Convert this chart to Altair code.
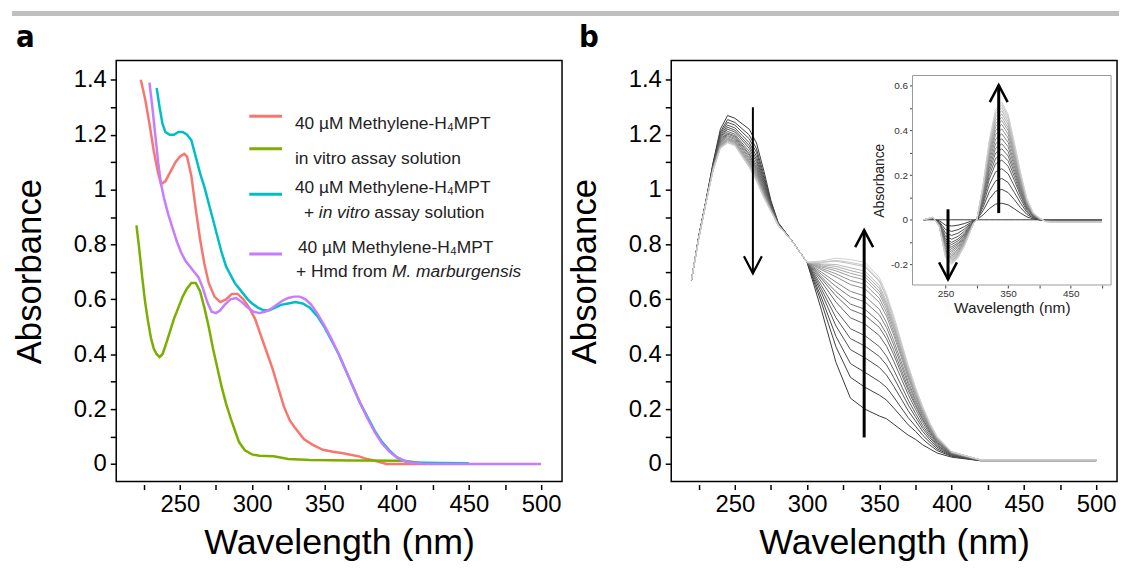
import altair as alt
import pandas as pd

FONT = "Liberation Sans"
LETTER_FONT = "Liberation Sans Narrow, DejaVu Sans Condensed, Liberation Sans"
W, H = 449, 424

# ---------------- panel a data ----------------
red_wl = [223, 226, 229, 232, 235, 237, 240, 243, 247, 250, 253, 255, 258, 261, 264, 267, 270, 274, 278, 282,
          286, 290, 294, 298, 302, 306, 310, 314, 318, 322, 326, 330, 336, 342, 349, 356, 362, 368, 374, 379,
          385, 393, 405, 420]
red_abs = [1.40, 1.33, 1.24, 1.14, 1.06, 1.02, 1.03, 1.06, 1.10, 1.12, 1.13, 1.12, 1.05, 0.93, 0.82, 0.73, 0.66, 0.61, 0.59, 0.60,
           0.62, 0.62, 0.60, 0.57, 0.53, 0.47, 0.41, 0.35, 0.28, 0.21, 0.16, 0.13, 0.09, 0.07, 0.052, 0.045, 0.040, 0.034, 0.028, 0.019,
           0.012, 0.0, 0.0, 0.0]

green_wl = [220, 222, 224, 226, 228, 230, 232, 234, 236, 238, 240, 243, 246, 249, 252, 255, 258, 261, 264, 267,
            270, 273, 276, 279, 282, 285, 288, 291, 295, 300, 305, 315, 325, 340, 370, 405, 415, 425]
green_abs = [0.87, 0.78, 0.68, 0.59, 0.52, 0.46, 0.42, 0.40, 0.39, 0.40, 0.43, 0.48, 0.53, 0.57, 0.61, 0.64, 0.66, 0.66, 0.63, 0.57,
             0.50, 0.42, 0.35, 0.28, 0.22, 0.17, 0.124, 0.08, 0.05, 0.035, 0.03, 0.028, 0.018, 0.015, 0.013, 0.012, 0.005, 0.0]

cyan_wl = [234, 236, 238, 240, 243, 246, 249, 252, 255, 258, 261, 264, 267, 270, 273, 276, 279, 282, 285, 288,
           291, 294, 297, 300, 304, 308, 312, 316, 320, 325, 330, 335, 340, 345, 350, 355, 360, 365, 370, 375,
           380, 385, 390, 395, 400, 405, 410, 430, 450]
cyan_abs = [1.37, 1.30, 1.24, 1.21, 1.20, 1.20, 1.21, 1.21, 1.20, 1.18, 1.12, 1.06, 1.01, 0.95, 0.89, 0.83, 0.77, 0.72, 0.69, 0.66,
            0.64, 0.62, 0.60, 0.585, 0.57, 0.56, 0.56, 0.57, 0.58, 0.585, 0.59, 0.585, 0.57, 0.54, 0.50, 0.45, 0.40, 0.34, 0.28, 0.22,
            0.17, 0.12, 0.08, 0.05, 0.025, 0.012, 0.006, 0.004, 0.003]

purple_wl = [229, 231, 233, 235, 237, 239, 242, 245, 248, 251, 254, 257, 260, 263, 266, 269, 272, 275, 278, 281,
             285, 289, 293, 297, 301, 305, 309, 313, 317, 321, 325, 329, 333, 337, 341, 345, 350, 355, 360, 365,
             370, 375, 380, 385, 390, 395, 400, 405, 410, 420, 500]
purple_abs = [1.39, 1.30, 1.20, 1.10, 1.02, 0.97, 0.91, 0.86, 0.81, 0.77, 0.74, 0.72, 0.70, 0.68, 0.64, 0.59, 0.555, 0.55, 0.56, 0.58,
              0.60, 0.605, 0.59, 0.57, 0.555, 0.55, 0.555, 0.565, 0.58, 0.595, 0.605, 0.61, 0.61, 0.60, 0.58, 0.55, 0.505, 0.455, 0.40, 0.34,
              0.28, 0.22, 0.165, 0.115, 0.075, 0.045, 0.025, 0.012, 0.005, 0.0, 0.0]

series_colors = ["#F8766D", "#7CAE00", "#00BFC4", "#C77CFF"]

# ---------------- panel b data (rows = wavelengths, columns = successive spectra) ----------------
b_wl = [220, 225, 230, 235, 240, 245, 250, 255, 260, 265, 270, 275, 280, 290, 300, 310, 320, 330, 340, 350,
        355, 360, 365, 370, 375, 380, 385, 390, 400, 420, 500]
b_rows = [
    [0.670, 0.670, 0.670, 0.670, 0.670, 0.670, 0.670, 0.670, 0.670, 0.670, 0.670, 0.670, 0.670, 0.670, 0.670, 0.670, 0.670, 0.670, 0.670, 0.670],
    [0.830, 0.828, 0.828, 0.826, 0.826, 0.825, 0.824, 0.824, 0.823, 0.823, 0.822, 0.822, 0.822, 0.821, 0.821, 0.821, 0.821, 0.820, 0.820, 0.820],
    [0.960, 0.958, 0.958, 0.956, 0.956, 0.955, 0.954, 0.954, 0.953, 0.953, 0.952, 0.952, 0.952, 0.951, 0.951, 0.951, 0.951, 0.950, 0.950, 0.950],
    [1.100, 1.096, 1.093, 1.090, 1.087, 1.085, 1.083, 1.081, 1.080, 1.078, 1.077, 1.075, 1.075, 1.074, 1.073, 1.072, 1.072, 1.071, 1.071, 1.070],
    [1.220, 1.210, 1.203, 1.196, 1.190, 1.185, 1.179, 1.175, 1.172, 1.169, 1.166, 1.163, 1.161, 1.158, 1.157, 1.156, 1.154, 1.152, 1.151, 1.150],
    [1.270, 1.255, 1.245, 1.235, 1.227, 1.220, 1.212, 1.206, 1.202, 1.197, 1.193, 1.188, 1.185, 1.182, 1.180, 1.178, 1.176, 1.173, 1.172, 1.170],
    [1.260, 1.245, 1.235, 1.225, 1.217, 1.210, 1.202, 1.196, 1.192, 1.187, 1.183, 1.178, 1.175, 1.172, 1.170, 1.168, 1.166, 1.163, 1.162, 1.160],
    [1.240, 1.222, 1.210, 1.198, 1.188, 1.180, 1.170, 1.163, 1.158, 1.152, 1.148, 1.142, 1.138, 1.134, 1.132, 1.130, 1.127, 1.124, 1.122, 1.120],
    [1.220, 1.199, 1.185, 1.171, 1.160, 1.150, 1.139, 1.130, 1.125, 1.118, 1.112, 1.105, 1.101, 1.097, 1.094, 1.091, 1.088, 1.084, 1.083, 1.080],
    [1.170, 1.149, 1.135, 1.121, 1.110, 1.100, 1.089, 1.080, 1.075, 1.068, 1.062, 1.055, 1.051, 1.047, 1.044, 1.041, 1.038, 1.034, 1.033, 1.030],
    [1.070, 1.055, 1.045, 1.035, 1.027, 1.020, 1.012, 1.006, 1.002, 0.997, 0.993, 0.988, 0.985, 0.982, 0.980, 0.978, 0.976, 0.973, 0.972, 0.970],
    [0.960, 0.954, 0.950, 0.946, 0.943, 0.940, 0.937, 0.934, 0.933, 0.931, 0.929, 0.927, 0.926, 0.925, 0.924, 0.923, 0.922, 0.921, 0.921, 0.920],
    [0.880, 0.878, 0.878, 0.876, 0.876, 0.875, 0.874, 0.874, 0.873, 0.873, 0.872, 0.872, 0.872, 0.871, 0.871, 0.871, 0.871, 0.870, 0.870, 0.870],
    [0.810, 0.810, 0.810, 0.810, 0.810, 0.810, 0.810, 0.810, 0.810, 0.810, 0.810, 0.810, 0.810, 0.810, 0.810, 0.810, 0.810, 0.810, 0.810, 0.810],
    [0.735, 0.735, 0.735, 0.735, 0.735, 0.735, 0.735, 0.735, 0.735, 0.735, 0.735, 0.735, 0.735, 0.735, 0.735, 0.735, 0.735, 0.735, 0.735, 0.735],
    [0.560, 0.587, 0.605, 0.623, 0.637, 0.650, 0.664, 0.675, 0.682, 0.691, 0.699, 0.708, 0.713, 0.718, 0.722, 0.726, 0.729, 0.735, 0.736, 0.740],
    [0.370, 0.427, 0.465, 0.503, 0.533, 0.560, 0.590, 0.613, 0.628, 0.647, 0.663, 0.682, 0.693, 0.704, 0.712, 0.720, 0.727, 0.739, 0.742, 0.750],
    [0.240, 0.316, 0.366, 0.417, 0.457, 0.493, 0.533, 0.563, 0.583, 0.609, 0.629, 0.654, 0.669, 0.684, 0.695, 0.705, 0.715, 0.730, 0.735, 0.745],
    [0.200, 0.280, 0.334, 0.387, 0.430, 0.468, 0.510, 0.542, 0.564, 0.591, 0.612, 0.639, 0.655, 0.671, 0.682, 0.692, 0.703, 0.719, 0.724, 0.735],
    [0.175, 0.251, 0.301, 0.352, 0.392, 0.428, 0.468, 0.498, 0.518, 0.544, 0.564, 0.589, 0.604, 0.619, 0.630, 0.640, 0.650, 0.665, 0.670, 0.680],
    [0.165, 0.233, 0.279, 0.324, 0.361, 0.393, 0.429, 0.456, 0.474, 0.497, 0.515, 0.538, 0.552, 0.565, 0.575, 0.584, 0.593, 0.606, 0.611, 0.620],
    [0.145, 0.204, 0.244, 0.283, 0.315, 0.343, 0.374, 0.398, 0.414, 0.433, 0.449, 0.469, 0.481, 0.493, 0.501, 0.508, 0.516, 0.528, 0.532, 0.540],
    [0.125, 0.174, 0.206, 0.239, 0.265, 0.288, 0.314, 0.333, 0.346, 0.362, 0.375, 0.392, 0.401, 0.411, 0.418, 0.424, 0.431, 0.440, 0.444, 0.450],
    [0.105, 0.143, 0.169, 0.194, 0.215, 0.233, 0.253, 0.268, 0.278, 0.291, 0.301, 0.314, 0.322, 0.329, 0.335, 0.340, 0.345, 0.352, 0.355, 0.360],
    [0.090, 0.119, 0.138, 0.157, 0.172, 0.185, 0.200, 0.212, 0.219, 0.229, 0.236, 0.246, 0.252, 0.257, 0.261, 0.265, 0.269, 0.274, 0.276, 0.280],
    [0.070, 0.091, 0.105, 0.119, 0.130, 0.140, 0.151, 0.160, 0.165, 0.172, 0.178, 0.185, 0.189, 0.193, 0.196, 0.199, 0.202, 0.206, 0.207, 0.210],
    [0.055, 0.069, 0.079, 0.088, 0.096, 0.103, 0.110, 0.116, 0.120, 0.124, 0.128, 0.133, 0.136, 0.139, 0.141, 0.142, 0.144, 0.147, 0.148, 0.150],
    [0.040, 0.049, 0.055, 0.061, 0.066, 0.070, 0.075, 0.078, 0.081, 0.084, 0.086, 0.089, 0.091, 0.093, 0.094, 0.095, 0.096, 0.098, 0.099, 0.100],
    [0.025, 0.028, 0.030, 0.032, 0.034, 0.035, 0.037, 0.038, 0.039, 0.040, 0.040, 0.041, 0.042, 0.043, 0.043, 0.043, 0.044, 0.044, 0.045, 0.045],
    [0.012, 0.012, 0.013, 0.013, 0.013, 0.013, 0.014, 0.014, 0.014, 0.014, 0.014, 0.014, 0.015, 0.015, 0.015, 0.015, 0.015, 0.015, 0.015, 0.015],
    [0.012, 0.012, 0.013, 0.013, 0.013, 0.013, 0.014, 0.014, 0.014, 0.014, 0.014, 0.014, 0.015, 0.015, 0.015, 0.015, 0.015, 0.015, 0.015, 0.015],
]

# ---------------- inset data (difference spectra) ----------------
ins_wl = [215, 230, 240, 245, 250, 260, 270, 280, 290, 295, 300, 310, 320, 330, 340, 350, 360, 370, 380, 390,
          400, 410, 420, 500]
ins_rows = [
    [0, 0, 0, 0, 0, 0, 0, 0, 0, 0, 0, 0, 0, 0, 0, 0, 0, 0, 0, 0],
    [0, .002, .003, .004, .005, .006, .007, .007, .008, .008, .009, .009, .010, .010, .010, .011, .011, .011, .012, .012],
    [0, -.004, -.008, -.011, -.013, -.015, -.017, -.018, -.019, -.021, -.022, -.023, -.024, -.025, -.026, -.027, -.028, -.029, -.029, -.030],
    [0, -.014, -.026, -.035, -.044, -.051, -.056, -.061, -.065, -.069, -.073, -.078, -.081, -.085, -.087, -.090, -.093, -.096, -.098, -.100],
    [0, -.024, -.044, -.060, -.074, -.086, -.094, -.103, -.110, -.117, -.124, -.132, -.138, -.144, -.148, -.153, -.158, -.162, -.167, -.170],
    [0, -.028, -.052, -.070, -.087, -.101, -.111, -.121, -.129, -.138, -.146, -.155, -.162, -.169, -.174, -.180, -.186, -.191, -.196, -.200],
    [0, -.024, -.044, -.060, -.074, -.086, -.094, -.103, -.110, -.117, -.124, -.132, -.138, -.144, -.148, -.153, -.158, -.162, -.167, -.170],
    [0, -.017, -.031, -.042, -.052, -.061, -.067, -.073, -.077, -.083, -.088, -.093, -.097, -.101, -.104, -.108, -.112, -.115, -.118, -.120],
    [0, -.007, -.013, -.018, -.022, -.025, -.028, -.030, -.032, -.035, -.037, -.039, -.041, -.042, -.044, -.045, -.047, -.048, -.049, -.050],
    [0, -.002, -.004, -.006, -.007, -.008, -.009, -.010, -.010, -.011, -.012, -.012, -.013, -.014, -.014, -.014, -.015, -.015, -.016, -.016],
    [0, 0, 0, 0, 0, 0, 0, 0, 0, 0, 0, 0, 0, 0, 0, 0, 0, 0, 0, 0],
    [0, .022, .041, .056, .069, .080, .088, .095, .102, .109, .116, .122, .128, .133, .138, .142, .147, .151, .155, .158],
    [0, .050, .092, .126, .156, .182, .199, .216, .231, .247, .262, .277, .290, .302, .312, .322, .333, .342, .350, .358],
    [0, .070, .128, .174, .215, .251, .275, .299, .320, .341, .362, .383, .401, .417, .431, .446, .460, .473, .484, .494],
    [0, .074, .136, .185, .229, .267, .293, .318, .340, .363, .385, .407, .427, .444, .459, .474, .489, .503, .515, .526],
    [0, .067, .122, .167, .206, .240, .264, .286, .306, .327, .347, .366, .384, .400, .413, .427, .440, .453, .464, .473],
    [0, .049, .090, .122, .151, .176, .193, .210, .224, .240, .254, .269, .282, .293, .303, .313, .323, .332, .340, .347],
    [0, .030, .054, .074, .092, .107, .117, .127, .136, .145, .154, .163, .171, .178, .184, .190, .196, .201, .206, .210],
    [0, .013, .024, .033, .041, .048, .053, .057, .061, .065, .069, .073, .077, .080, .083, .085, .088, .091, .093, .095],
    [0, .004, .008, .011, .014, .016, .018, .019, .020, .022, .023, .024, .026, .027, .028, .028, .029, .030, .031, .032],
    [0, 0, 0, 0, .001, .002, .002, .003, .003, .004, .004, .005, .005, .006, .006, .007, .007, .008, .008, .008],
    [0, -.001, -.002, -.003, -.003, -.004, -.004, -.005, -.005, -.005, -.006, -.006, -.006, -.007, -.007, -.007, -.008, -.008, -.008, -.008],
    [0, -.002, -.003, -.004, -.005, -.005, -.006, -.006, -.007, -.007, -.007, -.008, -.008, -.008, -.009, -.009, -.009, -.009, -.010, -.010],
    [0, -.002, -.003, -.004, -.005, -.005, -.006, -.006, -.007, -.007, -.007, -.008, -.008, -.008, -.009, -.009, -.009, -.009, -.010, -.010],
]

# arrows: wavelength, tail value, tip value
b_arrows_wl = [262.5, 339.5]
b_arrows_tail = [1.30, 0.097]
b_arrows_tip = [0.695, 0.852]
ins_arrows_wl = [254, 335]
ins_arrows_tail = [0.047, 0.03]
ins_arrows_tip = [-0.267, 0.603]

# axes ticks
X_TICKS = [225, 250, 275, 300, 325, 350, 375, 400, 425, 450, 475, 500]
Y_TICKS = [0, 0.1, 0.2, 0.3, 0.4, 0.5, 0.6, 0.7, 0.8, 0.9, 1.0, 1.1, 1.2, 1.3, 1.4]
INS_X_TICKS = [250, 300, 350, 400, 450, 500]
INS_Y_TICKS = [-0.2, -0.1, 0, 0.1, 0.2, 0.3, 0.4, 0.5, 0.6]
X_DOM = [206, 514.5]
Y_DOM = [-0.064, 1.47]
INS_X_DOM = [197.3, 514.5]
INS_Y_DOM = [-0.292, 0.646]


def long_df(wls, rows):
    recs = []
    for w, row in zip(wls, rows):
        for k, v in enumerate(row):
            recs.append({"wl": w, "abs": v, "k": k, "key": f"c{k:02d}"})
    return pd.DataFrame(recs).sort_values(["key", "wl"])


x_scale = alt.Scale(domain=X_DOM, nice=False, zero=False)
y_scale = alt.Scale(domain=Y_DOM, nice=False, zero=False)

x_axis = alt.Axis(values=X_TICKS, labelExpr="datum.value % 50 == 0 ? datum.label : ''", orient="bottom",
                  offset=3, domain=False, grid=False, tickSize=5, tickWidth=1.5, tickColor="black",
                  labelFont=FONT, labelFontSize=24, labelColor="black", labelPadding=3, labelFlush=False,
                  labelOverlap=False, title="Wavelength (nm)", titleFont=FONT, titleFontSize=36,
                  titleFontWeight="normal", titleColor="black", titleY=69, titleBaseline="alphabetic")
y_axis = alt.Axis(values=Y_TICKS, labelExpr="round(datum.value * 10) % 2 == 0 ? '' + datum.value : ''",
                  orient="left", domain=False, grid=False, tickSize=6, tickWidth=1.5, tickColor="black",
                  labelFont=FONT, labelFontSize=24, labelColor="black", labelPadding=4, labelFlush=False,
                  labelOverlap=False, title="Absorbance", titleFont=FONT, titleFontSize=35,
                  titleFontWeight="normal", titleColor="black", titleX=-87, titleBaseline="middle")

one = pd.DataFrame({"d": [0]})


def text_at(s, x, y, size=17.5, style="normal", weight="normal", color="#222222", font=FONT):
    return alt.Chart(one).mark_text(text=s, align="left", baseline="alphabetic", fontSize=size,
                                    fontStyle=style, fontWeight=weight, font=font, color=color).encode(
        x=alt.value(x), y=alt.value(y))


def hline(x1, x2, y, color, width):
    return alt.Chart(one).mark_rule(color=color, strokeWidth=width).encode(
        x=alt.value(x1), x2=alt.value(x2), y=alt.value(y))


# ---------------- panel a ----------------
layers_a = []
for wl, ab, col in zip([red_wl, green_wl, cyan_wl, purple_wl], [red_abs, green_abs, cyan_abs, purple_abs], series_colors):
    df = pd.DataFrame({"wl": wl, "abs": ab})
    layers_a.append(alt.Chart(df).mark_line(color=col, strokeWidth=2.5).encode(
        x=alt.X("wl:Q", scale=x_scale, axis=x_axis),
        y=alt.Y("abs:Q", scale=y_scale, axis=y_axis)))

legend_layers = [
    hline(134, 167, 56, series_colors[0], 3),
    hline(134, 167, 88.7, series_colors[1], 3),
    hline(134, 167, 134.7, series_colors[2], 3),
    hline(134, 167, 194.7, series_colors[3], 3),
    text_at("40 µM Methylene-H₄MPT", 180, 68.7),
    text_at("in vitro assay solution", 180, 103.7),
    text_at("40 µM Methylene-H₄MPT", 180, 133.7),
    text_at("+", 189, 158.7),
    text_at("in vitro", 204, 158.7, style="italic"),
    text_at("assay solution", 260, 158.7),
    text_at("40 µM Methylene-H₄MPT", 183, 193.7),
    text_at("+ Hmd from", 181, 218),
    text_at("M. marburgensis", 277.7, 218, style="italic"),
]

deco_a = [
    hline(-105, 1010, -47.5, "#bfbfbf", 5),
    text_at("a", -101, -13.5, size=31, weight="bold", color="black", font=LETTER_FONT),
]

panel_a = alt.layer(*layers_a, *legend_layers, *deco_a).properties(width=W, height=H)

# ---------------- panel b ----------------
df_b = long_df(b_wl, b_rows)
lines_b = alt.Chart(df_b).mark_line(strokeWidth=1).encode(
    x=alt.X("wl:Q", scale=x_scale, axis=x_axis),
    y=alt.Y("abs:Q", scale=y_scale, axis=y_axis),
    color=alt.Color("k:Q", scale=alt.Scale(domain=[0, 19], range=["#383838", "#d0d0d0"]), legend=None),
    detail="key:N")

arr_b = pd.DataFrame({"wl": b_arrows_wl, "abs": b_arrows_tail, "tip": b_arrows_tip, "sw": [2, 3]})
shaft_b = alt.Chart(arr_b).mark_rule(color="black").encode(
    x=alt.X("wl:Q", scale=x_scale, axis=x_axis),
    y=alt.Y("abs:Q", scale=y_scale, axis=y_axis),
    y2="tip:Q",
    strokeWidth=alt.StrokeWidth("sw:Q", scale=None))

DOWN = "M-1,-1.9L0,0L1,-1.9"
UP = "M-1,1.9L0,0L1,1.9"


def chevrons(df, shape, xs, ys, xa, ya, sw):
    return alt.Chart(df).mark_point(shape=shape, filled=False, size=324, strokeWidth=sw, color="black",
                                    opacity=1, strokeJoin="miter").encode(
        x=alt.X("wl:Q", scale=xs, axis=xa),
        y=alt.Y("tip:Q", scale=ys, axis=ya))


chev_b_down = chevrons(arr_b.iloc[[0]], DOWN, x_scale, y_scale, x_axis, y_axis, 2.2)
chev_b_up = chevrons(arr_b.iloc[[1]], UP, x_scale, y_scale, x_axis, y_axis, 2.5)

main_b = alt.layer(lines_b, shaft_b, chev_b_down, chev_b_up,
                   text_at("b", -93, -13.5, size=31, weight="bold", color="black", font=LETTER_FONT))

# inset
ins_x_scale = alt.Scale(domain=INS_X_DOM, range=[243, 443], nice=False, zero=False)
ins_y_scale = alt.Scale(domain=INS_Y_DOM, range=[226, 15], nice=False, zero=False)
ins_x_axis = alt.Axis(values=INS_X_TICKS, labelExpr="datum.value % 100 == 50 ? datum.label : ''", orient="bottom",
                      offset=-198, domain=False, grid=False, tickSize=3, tickWidth=1, tickColor="#444444",
                      labelFont=FONT, labelFontSize=10, labelColor="#333333", labelPadding=1, labelFlush=False,
                      labelOverlap=False, title="Wavelength (nm)", titleFont=FONT, titleFontSize=15.5,
                      titleFontWeight="normal", titleColor="#222222", titleY=27.5, titleBaseline="alphabetic")
ins_y_axis = alt.Axis(values=INS_Y_TICKS, labelExpr="round(datum.value * 10) % 2 == 0 ? '' + datum.value : ''",
                      orient="left", offset=-243, domain=False, grid=False, tickSize=3, tickWidth=1,
                      tickColor="#444444", labelFont=FONT, labelFontSize=10, labelColor="#333333", labelPadding=2,
                      labelFlush=False, labelOverlap=False, title="Absorbance", titleFont=FONT, titleFontSize=14,
                      titleFontWeight="normal", titleColor="#222222", titleX=-33, titleBaseline="middle")

frame_df = pd.DataFrame({"wl": [INS_X_DOM[0]], "wl2": [INS_X_DOM[1]], "abs": [INS_Y_DOM[0]], "abs2": [INS_Y_DOM[1]]})
frame = alt.Chart(frame_df).mark_rect(fill="white", stroke="#9a9a9a", strokeWidth=1).encode(
    x=alt.X("wl:Q", scale=ins_x_scale, axis=ins_x_axis), x2="wl2:Q",
    y=alt.Y("abs:Q", scale=ins_y_scale, axis=ins_y_axis), y2="abs2:Q")

df_ins = long_df(ins_wl, ins_rows)
lines_ins = alt.Chart(df_ins).mark_line(strokeWidth=1).encode(
    x=alt.X("wl:Q", scale=ins_x_scale, axis=ins_x_axis),
    y=alt.Y("abs:Q", scale=ins_y_scale, axis=ins_y_axis),
    color=alt.Color("k:Q", scale=alt.Scale(domain=[0, 19], range=["#383838", "#d0d0d0"]), legend=None),
    detail="key:N")

arr_ins = pd.DataFrame({"wl": ins_arrows_wl, "abs": ins_arrows_tail, "tip": ins_arrows_tip, "sw": [3, 3]})
shaft_ins = alt.Chart(arr_ins).mark_rule(color="black").encode(
    x=alt.X("wl:Q", scale=ins_x_scale, axis=ins_x_axis),
    y=alt.Y("abs:Q", scale=ins_y_scale, axis=ins_y_axis),
    y2="tip:Q",
    strokeWidth=alt.StrokeWidth("sw:Q", scale=None))
chev_ins_down = chevrons(arr_ins.iloc[[0]], DOWN, ins_x_scale, ins_y_scale, ins_x_axis, ins_y_axis, 2.5)
chev_ins_up = chevrons(arr_ins.iloc[[1]], UP, ins_x_scale, ins_y_scale, ins_x_axis, ins_y_axis, 2.5)

inset = alt.layer(frame, lines_ins, shaft_ins, chev_ins_down, chev_ins_up)

panel_b = alt.layer(main_b, inset).resolve_scale(x="independent", y="independent").properties(width=W, height=H)

chart = alt.hconcat(panel_a, panel_b, spacing=110, bounds="flush").resolve_scale(
    x="independent", y="independent", color="independent").properties(
    padding={"left": 0, "top": 0, "right": 0, "bottom": 0}, background="white").configure_view(
    stroke="black", strokeWidth=1.5)

chart.save("out.html", embed_options={"renderer": "svg", "actions": False})
